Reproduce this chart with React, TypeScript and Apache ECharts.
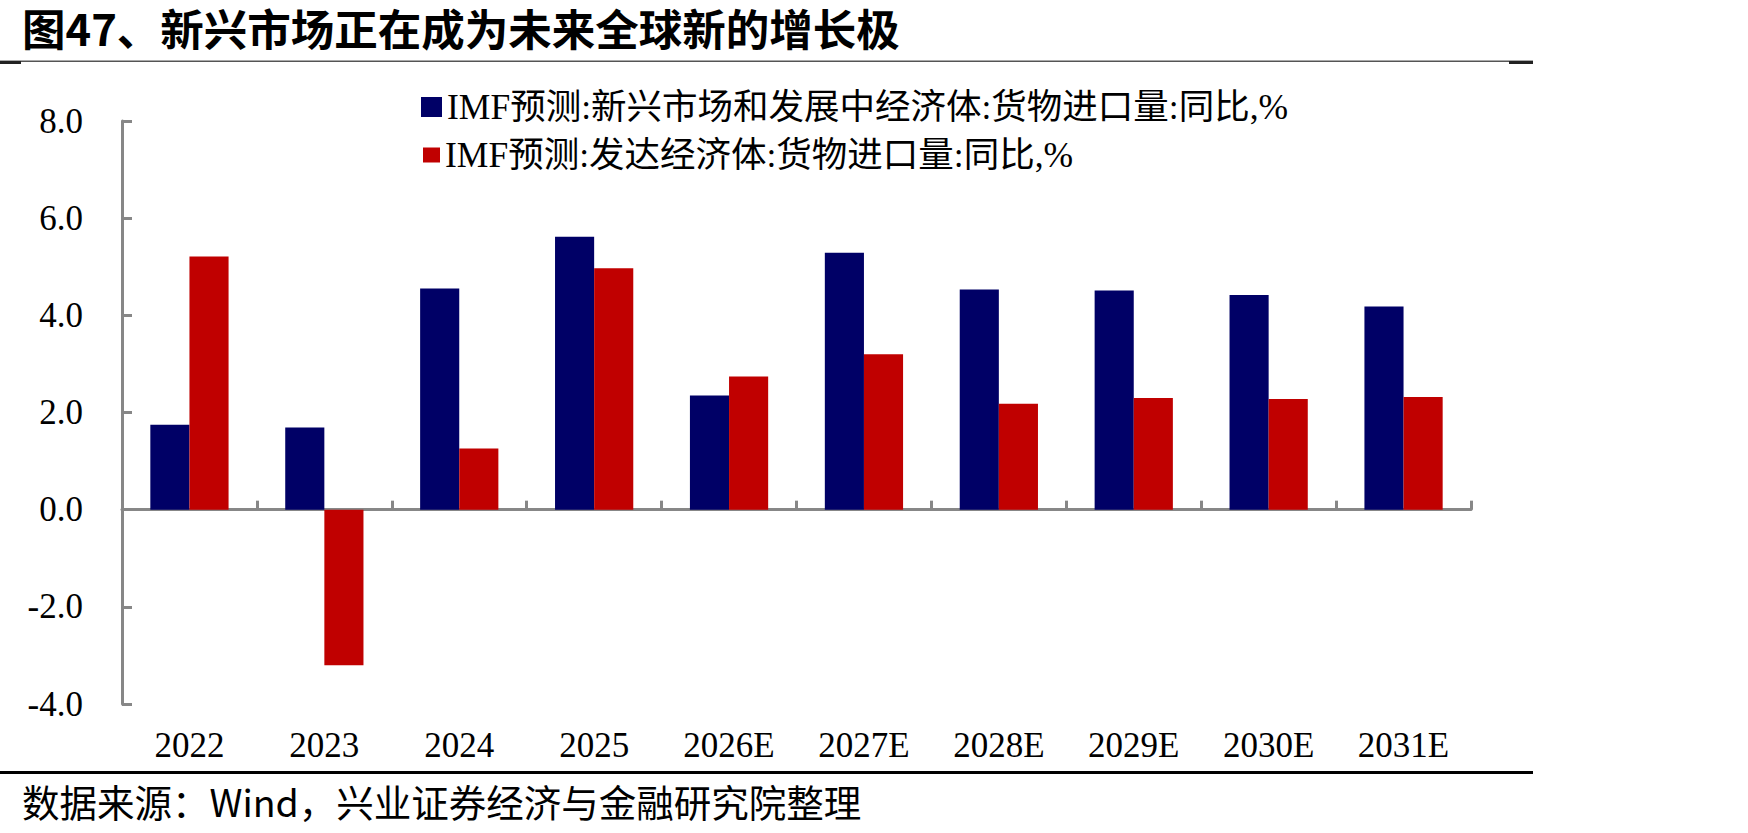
import React, { useEffect, useRef } from "react";
import * as echarts from "echarts";

// Years on the category axis
const categories = ["2022", "2023", "2024", "2025", "2026E", "2027E", "2028E", "2029E", "2030E", "2031E"];
// IMF forecast: goods import volume, YoY %
const emergingImports = [1.75, 1.69, 4.55, 5.62, 2.35, 5.29, 4.53, 4.51, 4.42, 4.18];
const advancedImports = [5.21, -3.2, 1.26, 4.97, 2.74, 3.2, 2.18, 2.3, 2.28, 2.32];
const seriesNames = [
  "IMF预测:新兴市场和发展中经济体:货物进口量:同比,%",
  "IMF预测:发达经济体:货物进口量:同比,%",
];
const yMin = -4;
const yMax = 8;
const yInterval = 2;
const titleText = "图47、新兴市场正在成为未来全球新的增长极";
const sourceText = "数据来源：Wind，兴业证券经济与金融研究院整理";

const SERIF = "'Liberation Serif', 'Times New Roman', 'Noto Sans CJK SC', serif";
const SANS = "'Noto Sans CJK SC', sans-serif";
const AXIS_GRAY = "#878787";
const NAVY = "#000066";
const RED = "#C00000";

export default function App() {
  const ref = useRef<HTMLDivElement>(null);

  useEffect(() => {
    if (!ref.current) return;
    const chart = echarts.init(ref.current, undefined, { renderer: "svg" });
    const legendText = { fontSize: 35.5, fontFamily: SERIF, color: "#000", lineHeight: 36 };
    chart.setOption({
      animation: false,
      backgroundColor: "#ffffff",
      grid: { left: 122, top: 121, right: 277, bottom: 129, containLabel: false },
      legend: [
        {
          data: [seriesNames[0]],
          left: 416,
          top: 84,
          icon: "rect",
          itemWidth: 21,
          itemHeight: 20,
          textStyle: legendText,
        },
        {
          data: [seriesNames[1]],
          left: 418,
          top: 132,
          icon: "rect",
          itemWidth: 17,
          itemHeight: 15,
          textStyle: legendText,
        },
      ],
      xAxis: [
        {
          type: "category",
          data: categories,
          axisLine: { show: true, onZero: true, lineStyle: { color: AXIS_GRAY, width: 3 } },
          axisTick: { show: true, inside: true, length: 9, lineStyle: { color: AXIS_GRAY, width: 3 } },
          axisLabel: { show: false },
          splitLine: { show: false },
        },
        {
          type: "category",
          data: categories,
          position: "bottom",
          axisLine: { show: false, onZero: false },
          axisTick: { show: false },
          axisLabel: { show: true, margin: 24, fontSize: 35, fontFamily: SERIF, color: "#000" },
          splitLine: { show: false },
        },
      ],
      yAxis: {
        type: "value",
        min: yMin,
        max: yMax,
        interval: yInterval,
        axisLine: { show: true, lineStyle: { color: AXIS_GRAY, width: 3 } },
        axisTick: { show: true, inside: true, length: 10, lineStyle: { color: AXIS_GRAY, width: 3 } },
        axisLabel: {
          margin: 39,
          fontSize: 35,
          fontFamily: SERIF,
          color: "#000",
          formatter: (v: number) => v.toFixed(1),
        },
        splitLine: { show: false },
      },
      series: [
        {
          name: seriesNames[0],
          type: "bar",
          xAxisIndex: 0,
          data: emergingImports,
          itemStyle: { color: NAVY },
          barGap: "0%",
          barCategoryGap: "42%",
        },
        {
          name: seriesNames[1],
          type: "bar",
          xAxisIndex: 0,
          data: advancedImports,
          itemStyle: { color: RED },
          barGap: "0%",
          barCategoryGap: "42%",
        },
      ],
      graphic: [
        {
          type: "text",
          x: 22,
          y: 4,
          style: { text: titleText, font: `bold 43.5px ${SANS}`, lineHeight: 46, fill: "#000" },
        },
        { type: "rect", shape: { x: 0, y: 60.5, width: 1533, height: 1.5 }, style: { fill: "#555" } },
        { type: "rect", shape: { x: 0, y: 61, width: 21, height: 3 }, style: { fill: "#222" } },
        { type: "rect", shape: { x: 1509, y: 61, width: 24, height: 3 }, style: { fill: "#222" } },
        { type: "rect", shape: { x: 0, y: 771, width: 1533, height: 3 }, style: { fill: "#000" } },
        {
          type: "text",
          x: 22,
          y: 779,
          style: { text: sourceText, font: `37.5px ${SANS}`, lineHeight: 42, fill: "#000" },
        },
      ],
    });
    return () => chart.dispose();
  }, []);

  return (
    <div
      ref={ref}
      style={{ position: "absolute", left: 0, top: 0, width: 1748, height: 833, background: "#fff" }}
    />
  );
}
